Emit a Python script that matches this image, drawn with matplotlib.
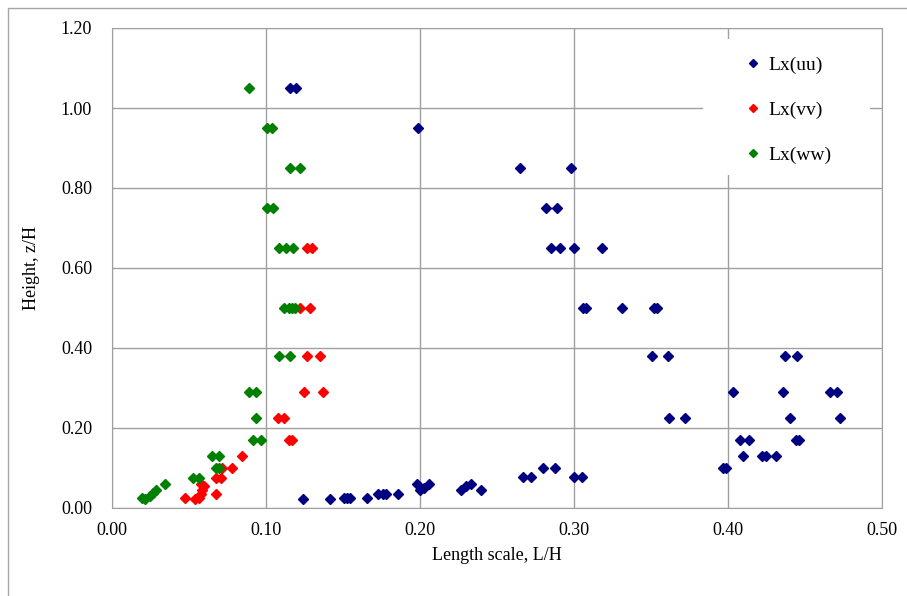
import numpy as np
import matplotlib.pyplot as plt
from matplotlib.patches import Rectangle

plt.rcParams['font.family'] = ['Liberation Serif', 'DejaVu Serif']

# Lx(uu)
uu_x = [0.124, 0.142, 0.151, 0.153, 0.155, 0.166, 0.173, 0.176, 0.178, 0.186,
        0.198, 0.200, 0.203, 0.206, 0.227, 0.230, 0.233, 0.240,
        0.267, 0.272, 0.280, 0.288, 0.300, 0.305,
        0.397, 0.399, 0.410, 0.422, 0.425, 0.431, 0.408, 0.414, 0.444, 0.446,
        0.362, 0.372, 0.440, 0.473, 0.403, 0.436, 0.466, 0.471,
        0.351, 0.361, 0.437, 0.445, 0.306, 0.308, 0.331, 0.352, 0.354,
        0.285, 0.291, 0.300, 0.318, 0.282, 0.289, 0.265, 0.298, 0.199, 0.116, 0.120]
uu_z = [0.022, 0.022, 0.025, 0.025, 0.025, 0.025, 0.035, 0.035, 0.035, 0.035,
        0.060, 0.045, 0.050, 0.060, 0.045, 0.055, 0.060, 0.045,
        0.077, 0.077, 0.100, 0.100, 0.077, 0.077,
        0.10, 0.10, 0.13, 0.13, 0.13, 0.13, 0.17, 0.17, 0.17, 0.17,
        0.225, 0.225, 0.225, 0.225, 0.29, 0.29, 0.29, 0.29,
        0.38, 0.38, 0.38, 0.38, 0.50, 0.50, 0.50, 0.50, 0.50,
        0.65, 0.65, 0.65, 0.65, 0.75, 0.75, 0.85, 0.85, 0.95, 1.05, 1.05]

# Lx(vv)
vv_x = [0.048, 0.054, 0.057, 0.058, 0.059, 0.060, 0.058, 0.068, 0.068, 0.071,
        0.072, 0.078, 0.085, 0.115, 0.117, 0.108, 0.112, 0.125, 0.137,
        0.127, 0.135, 0.122, 0.129, 0.127, 0.130]
vv_z = [0.025, 0.022, 0.025, 0.035, 0.045, 0.055, 0.060, 0.035, 0.075, 0.075,
        0.10, 0.10, 0.13, 0.17, 0.17, 0.225, 0.225, 0.29, 0.29,
        0.38, 0.38, 0.50, 0.50, 0.65, 0.65]

# Lx(ww)
ww_x = [0.020, 0.022, 0.025, 0.027, 0.029, 0.035, 0.053, 0.057, 0.065, 0.070,
        0.068, 0.070, 0.092, 0.097, 0.094, 0.089, 0.094, 0.109, 0.116,
        0.112, 0.115, 0.117, 0.119, 0.109, 0.113, 0.118, 0.101, 0.105,
        0.116, 0.122, 0.101, 0.104, 0.089]
ww_z = [0.025, 0.022, 0.030, 0.037, 0.045, 0.060, 0.075, 0.075, 0.13, 0.13,
        0.10, 0.10, 0.17, 0.17, 0.225, 0.29, 0.29, 0.38, 0.38,
        0.50, 0.50, 0.50, 0.50, 0.65, 0.65, 0.65, 0.75, 0.75,
        0.85, 0.85, 0.95, 0.95, 1.05]

fig = plt.figure(figsize=(9.07, 5.96), dpi=100)
fig.patches.append(Rectangle((8 / 907, -0.1), 2, (596 - 8) / 596 + 0.1,
                             transform=fig.transFigure, fill=False,
                             edgecolor='#a6a6a6', lw=1))
ax = fig.add_axes([111.5 / 907, 88 / 596, 770.5 / 907, 480 / 596])

ax.plot(uu_x, uu_z, 'D', color='#000080', ms=5.2, ls='none', label='Lx(uu)')
ax.plot(vv_x, vv_z, 'D', color='#ff0000', ms=5.2, ls='none', label='Lx(vv)')
ax.plot(ww_x, ww_z, 'D', color='#008000', ms=5.2, ls='none', label='Lx(ww)')

ax.set_xlim(0, 0.5)
ax.set_ylim(0, 1.2)
ax.set_xticks(np.arange(0, 0.51, 0.1))
ax.set_yticks(np.arange(0, 1.21, 0.2))
ax.set_xticklabels(['%.2f' % v for v in np.arange(0, 0.51, 0.1)])
ax.set_yticklabels(['%.2f' % v for v in np.arange(0, 1.21, 0.2)])
ax.tick_params(length=0, labelsize=13)
ax.tick_params(axis='x', pad=10)
ax.tick_params(axis='y', pad=14)
ax.grid(True, color='#a0a0a0', lw=1)
ax.set_axisbelow(True)
for s in ax.spines.values():
    s.set_color('#a0a0a0')

ax.set_xlabel('Length scale, L/H', fontsize=13, labelpad=6)
ax.set_ylabel('Height, z/H', fontsize=13, labelpad=15)

# white box behind the legend, hiding the grid
ax.add_patch(Rectangle((0.7677, 0.694), 0.2167, 0.2833, transform=ax.transAxes,
                       facecolor='white', edgecolor='none', zorder=1))
leg = ax.legend(loc='upper left', bbox_to_anchor=(0.820, 0.9406), fontsize=14,
                frameon=False, markerscale=0.75, handlelength=1.0,
                handletextpad=0.27, labelspacing=1.4, borderpad=0,
                borderaxespad=0)

fig.savefig('out.png', dpi=100)
